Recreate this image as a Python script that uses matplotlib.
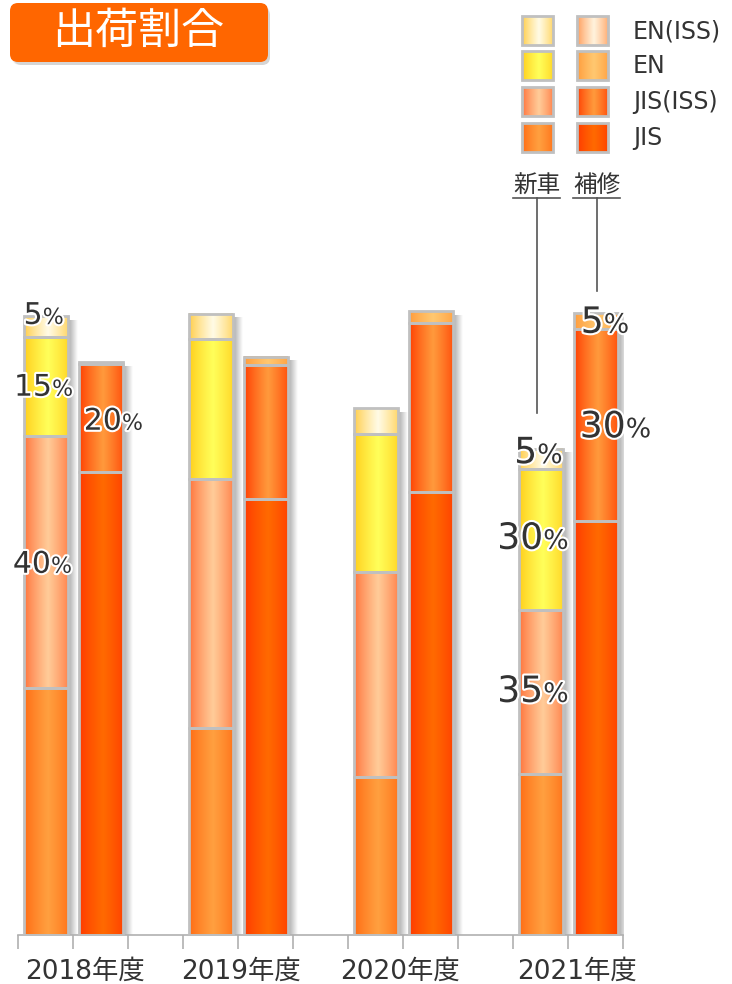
import matplotlib
matplotlib.use("Agg")
import matplotlib.pyplot as plt
import matplotlib.patheffects as pe
from matplotlib.patches import Rectangle, FancyBboxPatch
from matplotlib.colors import to_rgb
import numpy as np

plt.rcParams["font.family"] = ["DejaVu Sans", "Noto Sans CJK JP"]

# ── data (share of shipments, %) ──────────────────────────────────────────────
years = ["2018年度", "2019年度", "2020年度", "2021年度"]
series = ["JIS", "JIS(ISS)", "EN", "EN(ISS)"]

jis_new    = [39.2, 32.9, 25.1, 25.6]
jisiss_new = [40.0, 39.5, 32.5, 26.0]
en_new     = [15.7, 22.2, 21.9, 22.4]
eniss_new  = [3.3, 4.0, 4.1, 3.2]

jis_rep    = [73.5, 69.2, 70.3, 65.7]
jisiss_rep = [17.1, 21.3, 26.8, 30.5]
en_rep     = [0.3, 1.3, 1.9, 2.5]
eniss_rep  = [0.0, 0.0, 0.0, 0.0]

# value labels: slot, baseline y, number, big font
lab_slot = [0, 0, 0, 1, 9, 9, 9, 10, 10]
lab_y    = [97.0, 85.6, 57.5, 80.2, 74.9, 61.3, 37.0, 95.6, 79.0]
lab_num  = ["5", "15", "40", "20", "5", "30", "35", "5", "30"]
lab_big  = [False, False, False, False, True, True, True, True, True]
lab_dx   = [-0.05, 0.12, 0.10, 0.39, -0.06, 0.05, 0.05, 0.15, 0.55]

year_x = [0.71, 3.55, 6.45, 9.67]

# ── style ─────────────────────────────────────────────────────────────────────
# (edge, centre) colours of each horizontal gradient
NEW_C = [("#ff6a12", "#ffa040"), ("#ff7038", "#ffcc99"),
         ("#ffcc1a", "#ffff5a"), ("#ffcc44", "#fffbe6")]
REP_C = [("#ff3800", "#ff6a00"), ("#ff3c00", "#ff9a3c"),
         ("#ff9a3a", "#ffc870"), ("#ff9955", "#fff3dd")]
EDGE = "#c0c0c0"
TXT = "#333333"
ORANGE = "#ff6600"

PX = 6.3          # pixels per percent
W = 0.8           # bar width in slot units


def grad(edge, centre, n=64):
    t = np.linspace(0, 1, n)
    p = np.clip(1 - np.abs(t - 0.55) / 0.55, 0, 1) ** 0.8
    e, c = np.array(to_rgb(edge)), np.array(to_rgb(centre))
    return (e[None, :] * (1 - p[:, None]) + c[None, :] * p[:, None])[None, :, :]


fig = plt.figure(figsize=(7.32, 9.84), dpi=100, facecolor="white")
ax = fig.add_axes([18 / 732, 49 / 984, 605 / 732, 935 / 984])
ax.set_xlim(-0.5, 10.5)
ax.set_ylim(0, 935 / PX)
ax.patch.set_alpha(0)
for s in ["top", "right", "left"]:
    ax.spines[s].set_visible(False)
ax.spines["bottom"].set_color("#b0b0b0")
ax.spines["bottom"].set_linewidth(1.2)
ax.set_yticks([])
ax.set_xticks(np.arange(-0.5, 11, 1))
ax.set_xticklabels([])
ax.tick_params(axis="x", which="major", length=10, color="#b0b0b0", width=1.2)
ax.set_xticks(year_x, minor=True)
ax.set_xticklabels(years, minor=True, fontsize=19, color=TXT)
ax.tick_params(axis="x", which="minor", length=0, pad=17)

shadow = np.zeros((1, 32, 4))
shadow[..., :3] = 0.55
shadow[0, :, 3] = np.linspace(0.75, 0, 32)

groups = [(0, [jis_new, jisiss_new, en_new, eniss_new], NEW_C),
          (1, [jis_rep, jisiss_rep, en_rep, eniss_rep], REP_C)]
for off, stacks, cols in groups:
    for g in range(len(years)):
        x = 3 * g + off
        x0, x1 = x - W / 2, x + W / 2
        total = sum(st[g] for st in stacks)
        ax.imshow(shadow, extent=(x1, x1 + 0.17, 0, total - 0.6),
                  aspect="auto", zorder=1, interpolation="bilinear")
        bottom = 0
        for st, (ec, cc) in zip(stacks, cols):
            h = st[g]
            if h <= 0:
                continue
            ax.imshow(grad(ec, cc), extent=(x0, x1, bottom, bottom + h),
                      aspect="auto", zorder=2, interpolation="bilinear")
            ax.bar(x, h, W, bottom=bottom, facecolor="none",
                   edgecolor=EDGE, linewidth=2, zorder=3)
            bottom += h

halo = [pe.withStroke(linewidth=3, foreground="white")]
for sl, y, num, big, dx in zip(lab_slot, lab_y, lab_num, lab_big, lab_dx):
    fs = 26 if big else 21.5
    ax.text(sl + dx, y, num, ha="right", va="baseline", fontsize=fs,
            color=TXT, path_effects=halo, zorder=5)
    ax.text(sl + dx, y, "%", ha="left", va="baseline", fontsize=fs * 0.74,
            color=TXT, path_effects=halo, zorder=5)

# ── overlay (pixel coordinates) for title, legend, callouts ─────────────────
ov = fig.add_axes([0, 0, 1, 1], zorder=10)
ov.patch.set_alpha(0)
ov.axis("off")

for k, a in enumerate([0.10, 0.12, 0.15]):
    ov.add_patch(FancyBboxPatch((12 + k, 6 + k), 258 - k, 59 - k,
                                boxstyle="round,pad=0,rounding_size=8",
                                facecolor="#808080", edgecolor="none", alpha=a))
ov.add_patch(FancyBboxPatch((10, 3), 258, 59,
                            boxstyle="round,pad=0,rounding_size=8",
                            facecolor=ORANGE, edgecolor="none"))
ov.text(138, 32, "出荷割合", ha="center", va="center", fontsize=31,
        color="white", family=["Noto Sans CJK JP", "DejaVu Sans"])

row_top = [16, 51, 87, 123]
for r, idx in enumerate([3, 2, 1, 0]):
    for cx, cols in zip([522, 577], [NEW_C, REP_C]):
        ec, cc = cols[idx]
        ov.imshow(grad(ec, cc), extent=(cx, cx + 31, row_top[r] + 29, row_top[r]),
                  aspect="auto", interpolation="bilinear")
        ov.add_patch(Rectangle((cx, row_top[r]), 31, 29, facecolor="none",
                               edgecolor=EDGE, linewidth=2))
    ov.text(633, row_top[r] + 15, series[idx], ha="left", va="center",
            fontsize=17, color=TXT)

jp = ["Noto Sans CJK JP", "DejaVu Sans"]
for lbl, lx, yend in [("新車", 537, 413), ("補修", 597, 291)]:
    ov.text(lx, 186, lbl, ha="center", va="center", fontsize=17,
            color=TXT, family=jp)
    ov.plot([lx - 24, lx + 23], [198, 198], color="#555555", lw=1.2)
    ov.plot([lx, lx], [198, yend], color="#555555", lw=1.2)

ov.set_xlim(0, 732)
ov.set_ylim(984, 0)

fig.savefig("out.png", dpi=100, facecolor="white")
